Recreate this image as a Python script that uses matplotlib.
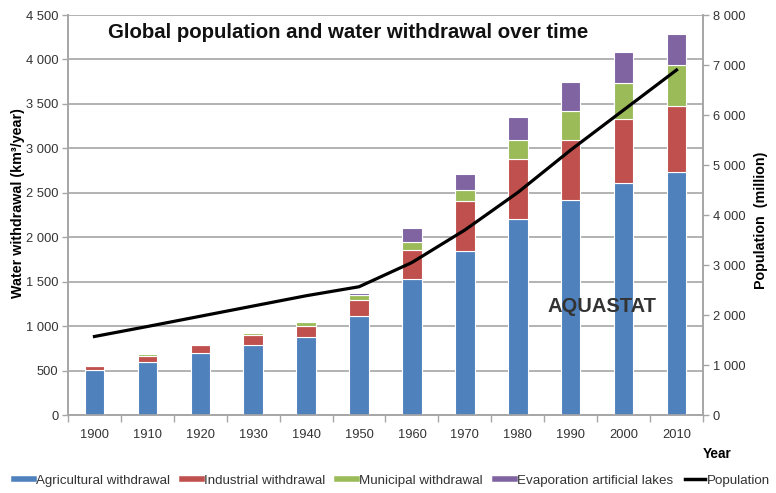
import matplotlib
matplotlib.use("Agg")
import matplotlib.pyplot as plt
from matplotlib.ticker import FuncFormatter, FixedLocator
from matplotlib.lines import Line2D
import numpy as np

plt.rcParams['font.family'] = ['Liberation Sans', 'DejaVu Sans']

years = ['1900', '1910', '1920', '1930', '1940', '1950', '1960', '1970', '1980', '1990', '2000', '2010']
agricultural = [510, 600, 700, 790, 880, 1110, 1535, 1840, 2200, 2420, 2610, 2735]
industrial = [45, 60, 90, 110, 125, 180, 325, 565, 675, 675, 725, 740]
municipal = [5, 30, 10, 25, 45, 60, 90, 125, 220, 325, 395, 460]
evaporation = [0, 5, 0, 5, 5, 25, 155, 180, 255, 330, 355, 355]
population = [1570, 1770, 1975, 2180, 2385, 2565, 3050, 3700, 4450, 5300, 6100, 6900]

series_names = ['Agricultural withdrawal', 'Industrial withdrawal', 'Municipal withdrawal',
                'Evaporation artificial lakes']
colors = ['#4F81BD', '#C0504D', '#9BBB59', '#8064A2']

W, H = 776, 493
fig = plt.figure(figsize=(W/100, H/100), dpi=100)
ax = fig.add_axes([68/W, 1-415/H, (703-68)/W, 400/H])
ax2 = ax.twinx()

x = np.arange(len(years))
bottom = np.zeros(len(years))
for vals, c in zip([agricultural, industrial, municipal, evaporation], colors):
    ax.bar(x, vals, width=0.37, bottom=bottom, color=c, edgecolor='white', linewidth=0.8, zorder=3)
    bottom += np.array(vals)

ax2.plot(x, population, color='black', linewidth=2.3, zorder=5)

ax.set_xlim(-0.5, len(years) - 0.5)
ax.set_ylim(0, 4500)
ax2.set_ylim(0, 8000)

def sp(v, pos):
    v = int(round(v))
    return f"{v:,}".replace(",", " ")

ax.yaxis.set_major_locator(FixedLocator(np.arange(0, 4501, 500)))
ax.yaxis.set_major_formatter(FuncFormatter(sp))
ax2.yaxis.set_major_locator(FixedLocator(np.arange(0, 8001, 1000)))
ax2.yaxis.set_major_formatter(FuncFormatter(sp))

ax.grid(axis='y', color='#A6A6A6', linewidth=1.2, zorder=0)
ax.set_axisbelow(True)

# x ticks: marks at category boundaries, labels at centres
ax.set_xticks(np.arange(-0.5, len(years), 1.0))
ax.set_xticklabels([])
ax.set_xticks(x, minor=True)
ax.set_xticklabels(years, minor=True)
ax.tick_params(axis='x', which='major', length=5, color='#A6A6A6', width=1)
ax.tick_params(axis='x', which='minor', length=0, pad=10, labelsize=9.3, labelcolor='#333333')
ax.tick_params(axis='y', length=4, color='#A6A6A6', width=1, labelsize=9.3, labelcolor='#333333', pad=3)
ax2.tick_params(axis='y', length=4, color='#A6A6A6', width=1, labelsize=9.3, labelcolor='#333333', pad=3)

for a in (ax, ax2):
    a.spines['top'].set_visible(False)
    for s in ['left', 'right', 'bottom']:
        a.spines[s].set_color('#A6A6A6')
        a.spines[s].set_linewidth(1.2)

fig.text(18/W, 1-203/H, 'Water withdrawal (km³/year)', rotation=90, fontsize=10.3,
         fontweight='bold', ha='center', va='center')
fig.text(761/W, 1-220/H, 'Population  (million)', rotation=90, fontsize=10.3,
         fontweight='bold', ha='center', va='center')

fig.text(108/W, 1-33/H, 'Global population and water withdrawal over time',
         fontsize=14.7, fontweight='bold', ha='left', va='center', color='#111111')
fig.text(602/W, 1-307/H, 'AQUASTAT', fontsize=14.5, fontweight='bold',
         ha='center', va='center', color='#333333', zorder=6)
fig.text(717/W, 1-454/H, 'Year', fontsize=9.8, fontweight='bold', ha='center', va='center')

handles = [Line2D([0], [0], color=c, linewidth=4) for c in colors]
handles.append(Line2D([0], [0], color='black', linewidth=2.5))
labels = series_names + ['Population']
fig.legend(handles, labels, loc='center', bbox_to_anchor=(392/W, 1-481/H), ncol=5, frameon=False,
           fontsize=9.6, handlelength=1.5, handletextpad=0.15, columnspacing=0.9, labelcolor='#333333')

fig.savefig('out.png', dpi=100)
